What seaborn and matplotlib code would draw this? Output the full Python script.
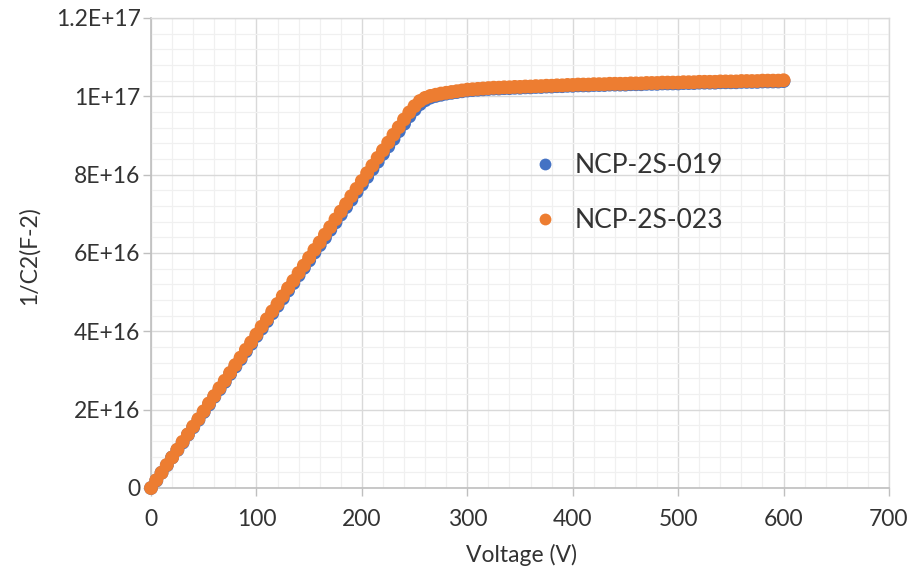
import matplotlib
matplotlib.use("Agg")
import matplotlib.pyplot as plt
from matplotlib.ticker import MultipleLocator
import seaborn as sns
import pandas as pd

# Bias voltage (V)
voltage = [
    0, 5, 10, 15, 20, 25, 30, 35, 40, 45, 50, 55, 60, 65, 70, 75, 80, 85, 90, 95,
    100, 105, 110, 115, 120, 125, 130, 135, 140, 145, 150, 155, 160, 165, 170, 175,
    180, 185, 190, 195, 200, 205, 210, 215, 220, 225, 230, 235, 240, 245, 250, 255,
    260, 265, 270, 275, 280, 285, 290, 295, 300, 305, 310, 315, 320, 325, 330, 335,
    340, 345, 350, 355, 360, 365, 370, 375, 380, 385, 390, 395, 400, 405, 410, 415,
    420, 425, 430, 435, 440, 445, 450, 455, 460, 465, 470, 475, 480, 485, 490, 495,
    500, 505, 510, 515, 520, 525, 530, 535, 540, 545, 550, 555, 560, 565, 570, 575,
    580, 585, 590, 595, 600,
]

# 1/C^2 in units of 1E15 F^-2
inv_c2_019 = [
    0.0, 1.9, 3.9, 5.8, 7.8, 9.7, 11.6, 13.6, 15.5, 17.4, 19.4, 21.3, 23.3, 25.2,
    27.1, 29.1, 31.0, 32.9, 34.9, 36.8, 38.8, 40.7, 42.6, 44.6, 46.5, 48.4, 50.4,
    52.3, 54.3, 56.2, 58.1, 60.1, 62.0, 63.9, 65.9, 67.8, 69.8, 71.7, 73.6, 75.6,
    77.5, 79.4, 81.4, 83.3, 85.3, 87.2, 89.1, 91.1, 93.0, 94.9, 96.6, 98.0, 99.0,
    99.7, 100.1, 100.4, 100.7, 100.9, 101.1, 101.3, 101.5, 101.6, 101.7, 101.8,
    101.9, 102.0, 102.0, 102.1, 102.1, 102.2, 102.2, 102.3, 102.3, 102.4, 102.4,
    102.5, 102.5, 102.6, 102.6, 102.7, 102.7, 102.8, 102.8, 102.8, 102.9, 102.9,
    102.9, 103.0, 103.0, 103.0, 103.0, 103.1, 103.1, 103.1, 103.2, 103.2, 103.2,
    103.3, 103.3, 103.3, 103.3, 103.4, 103.4, 103.4, 103.5, 103.5, 103.5, 103.5,
    103.6, 103.6, 103.6, 103.6, 103.7, 103.7, 103.7, 103.7, 103.8, 103.8, 103.8,
    103.8, 103.9,
]

inv_c2_023 = [
    0.0, 2.0, 3.9, 5.9, 7.8, 9.8, 11.8, 13.7, 15.7, 17.6, 19.6, 21.6, 23.5, 25.5,
    27.4, 29.4, 31.4, 33.3, 35.3, 37.2, 39.2, 41.2, 43.1, 45.1, 47.0, 49.0, 51.0,
    52.9, 54.9, 56.8, 58.8, 60.8, 62.7, 64.7, 66.6, 68.6, 70.6, 72.5, 74.5, 76.4,
    78.4, 80.4, 82.3, 84.3, 86.2, 88.2, 90.2, 92.1, 94.1, 95.9, 97.5, 98.8, 99.6,
    100.1, 100.4, 100.7, 100.9, 101.1, 101.3, 101.5, 101.7, 101.8, 101.9, 102.0,
    102.1, 102.2, 102.2, 102.3, 102.3, 102.4, 102.4, 102.5, 102.5, 102.6, 102.6,
    102.7, 102.7, 102.8, 102.8, 102.9, 102.9, 103.0, 103.0, 103.0, 103.1, 103.1,
    103.1, 103.2, 103.2, 103.2, 103.2, 103.3, 103.3, 103.3, 103.4, 103.4, 103.4,
    103.5, 103.5, 103.5, 103.5, 103.6, 103.6, 103.6, 103.7, 103.7, 103.7, 103.7,
    103.8, 103.8, 103.8, 103.8, 103.9, 103.9, 103.9, 103.9, 104.0, 104.0, 104.0,
    104.0, 104.1,
]

series_names = ["NCP-2S-019", "NCP-2S-023"]
series_colors = ["#4472C4", "#ED7D31"]

x_ticks = [0, 100, 200, 300, 400, 500, 600, 700]
y_ticks = [0, 2e16, 4e16, 6e16, 8e16, 1e17, 1.2e17]
y_tick_labels = ["0", "2E+16", "4E+16", "6E+16", "8E+16", "1E+17", "1.2E+17"]

UNIT = 1e15

df = pd.concat([
    pd.DataFrame({"Voltage": voltage,
                  "InvC2": [v * UNIT for v in inv_c2_019],
                  "Sample": series_names[0]}),
    pd.DataFrame({"Voltage": voltage,
                  "InvC2": [v * UNIT for v in inv_c2_023],
                  "Sample": series_names[1]}),
], ignore_index=True)

sns.set_theme(style="white")
plt.rcParams["font.family"] = ["Lato", "DejaVu Sans"]

W, H = 915, 573
X0, X1, Y0, Y1 = 151, 889, 488, 18
fig = plt.figure(figsize=(W / 100, H / 100), dpi=100)
ax = fig.add_axes([X0 / W, 1 - Y0 / H, (X1 - X0) / W, (Y0 - Y1) / H])

sns.scatterplot(data=df, x="Voltage", y="InvC2", hue="Sample",
                hue_order=series_names, palette=series_colors,
                s=100, linewidth=0, alpha=1, ax=ax, zorder=3, clip_on=False)

ax.set_xlim(0, 700)
ax.set_ylim(0, 1.2e17)
ax.set_xticks(x_ticks)
ax.set_xticklabels([str(t) for t in x_ticks])
ax.set_yticks(y_ticks)
ax.set_yticklabels(y_tick_labels)
ax.xaxis.set_minor_locator(MultipleLocator(20))
ax.yaxis.set_minor_locator(MultipleLocator(4e15))

ax.grid(which="major", color="#D9D9D9", linewidth=1.0, zorder=1)
ax.grid(which="minor", color="#F0F0F0", linewidth=0.9, zorder=0)
ax.set_axisbelow(True)

for side in ("top", "right"):
    ax.spines[side].set_color("#D9D9D9")
    ax.spines[side].set_linewidth(1.0)
for side in ("left", "bottom"):
    ax.spines[side].set_color("#BFBFBF")
    ax.spines[side].set_linewidth(1.2)

text_color = "#333333"
ax.tick_params(axis="both", which="major", length=6, width=1.0,
               color="#BFBFBF", labelsize=16.5, labelcolor=text_color,
               direction="out")
ax.tick_params(axis="x", which="major", pad=9, bottom=True)
ax.tick_params(axis="y", which="major", pad=1.5, left=True)
ax.tick_params(which="minor", length=0)

ax.set_xlabel("Voltage (V)", fontsize=16.5, color=text_color)
ax.set_ylabel("1/C2(F-2)", fontsize=16.5, color=text_color)
ax.xaxis.set_label_coords((521 - X0) / (X1 - X0), -(544 - Y0) / (Y0 - Y1))
ax.yaxis.set_label_coords(-(X0 - 40) / (X1 - X0), (Y0 - 256) / (Y0 - Y1))

handles, labels = ax.get_legend_handles_labels()
ax.legend(handles, labels, loc="center left",
          bbox_to_anchor=(519 / W, 1 - 193 / H), bbox_transform=fig.transFigure,
          frameon=False, fontsize=19, borderpad=0, handlelength=1.0,
          handletextpad=0.6, labelspacing=1.15, markerscale=0.85,
          labelcolor=text_color)

fig.savefig("out.png", dpi=100)
